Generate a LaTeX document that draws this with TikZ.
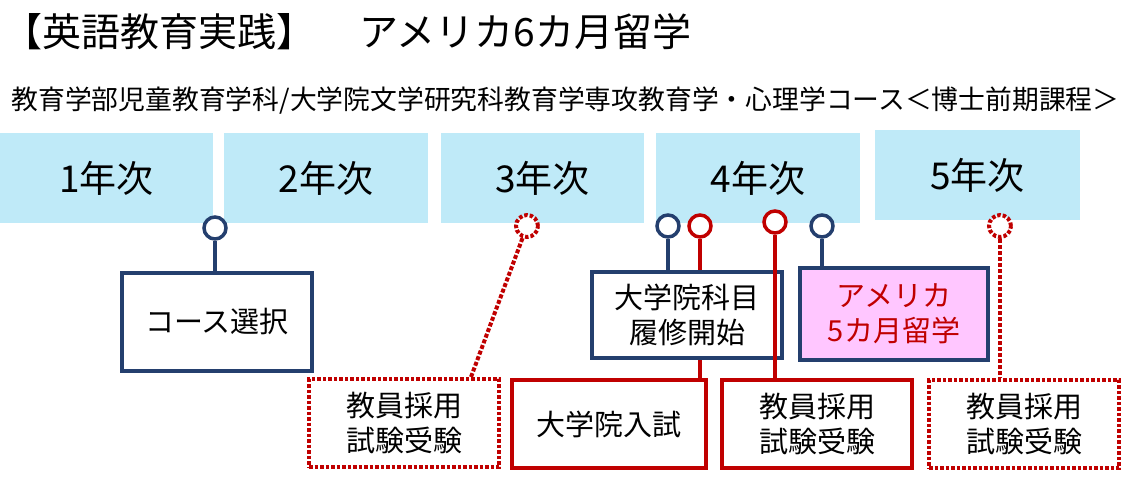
\documentclass[tikz,border=0pt]{standalone}
\usepackage{fontspec}
\newfontfamily\jp{Noto Sans CJK JP}
\definecolor{navy}{HTML}{243F6E}
\definecolor{dred}{HTML}{C00000}
\definecolor{lblue}{HTML}{BFEAF8}
\definecolor{pink}{HTML}{FFC6FF}
\begin{document}
\begin{tikzpicture}[x=1pt,y=-1pt,font=\jp,
 year/.style={fill=lblue,minimum height=90pt,inner sep=0pt,font=\jp\fontsize{37}{40}\selectfont},
 nbox/.style={draw=navy,line width=3.5pt,fill=white,inner sep=0pt,align=center,font=\jp\fontsize{29}{35}\selectfont},
 rbox/.style={draw=dred,line width=3.5pt,fill=white,inner sep=0pt,align=center,font=\jp\fontsize{29}{35}\selectfont},
 dbox/.style={rbox,dotted,line width=4pt},
 npin/.style={circle,draw=navy,line width=3.5pt,fill=white,minimum size=22pt,inner sep=0pt},
 rpin/.style={circle,draw=dred,line width=3.5pt,fill=white,minimum size=22pt,inner sep=0pt},
 dpin/.style={rpin,dotted,line width=4pt},
 nl/.style={draw=navy,line width=3.5pt},
 rl/.style={draw=dred,line width=3.5pt},
 dl/.style={draw=dred,line width=4pt,dotted}]
\useasboundingbox (0,0) rectangle (1135,480);
\node[anchor=west,font=\jp\fontsize{39}{42}\selectfont] (title) at (0,32) {【英語教育実践】\hspace{44pt}アメリカ6カ月留学};
\node[anchor=west,font=\jp\fontsize{26.8}{30}\selectfont] (sub) at (8,101) {教育学部児童教育学科/大学院文学研究科教育学専攻教育学・心理学コース＜博士前期課程＞};
\node[year,minimum width=213pt] (y1) at (106.5,178) {1年次};
\node[year,minimum width=204pt] (y2) at (326,178) {2年次};
\node[year,minimum width=203pt] (y3) at (542.5,178) {3年次};
\node[year,minimum width=204pt] (y4) at (758,178) {4年次};
\node[year,minimum width=205pt] (y5) at (977.5,175) {5年次};
% boxes
\node[nbox,minimum width=190pt,minimum height=98pt] (course) at (217,322) {コース選択};
\node[dbox,minimum width=190pt,minimum height=88pt] (ex3) at (404,423) {教員採用\\試験受験};
\node[nbox,minimum width=190pt,minimum height=86pt] (gs) at (687,315) {大学院科目\\履修開始};
\node[rbox,minimum width=194pt,minimum height=88pt] (nyu) at (609,424) {大学院入試};
\node[rbox,minimum width=190pt,minimum height=88pt] (ex4) at (817,424) {教員採用\\試験受験};
\node[nbox,fill=pink,minimum width=188pt,minimum height=92pt,text=dred] (am) at (894,314) {アメリカ\\5カ月留学};
\node[dbox,minimum width=190pt,minimum height=88pt] (ex5) at (1024,424) {教員採用\\試験受験};
% pins
\node[npin] (p1) at (215,228) {};
\node[dpin] (p3) at (527,226) {};
\node[npin] (p4a) at (668,226) {};
\node[rpin] (p4b) at (700,226) {};
\node[rpin] (p4c) at (775,222) {};
\node[npin] (p4d) at (822,226) {};
\node[dpin] (p5) at (1000,226) {};
% connectors
\draw[nl] (p1) -- (p1|-course.north);
\draw[dl] (p3) -- ([xshift=-30pt]ex3.north east);
\draw[nl] (p4a) -- (p4a|-gs.north);
\draw[rl] (p4b) -- (p4b|-gs.north);
\draw[rl] (p4b|-gs.south) -- (p4b|-nyu.north);
\draw[rl] (p4c) -- (p4c|-ex4.north);
\draw[nl] (p4d) -- (p4d|-am.north);
\draw[dl] (p5) -- (p5|-ex5.north);
\end{tikzpicture}
\end{document}
